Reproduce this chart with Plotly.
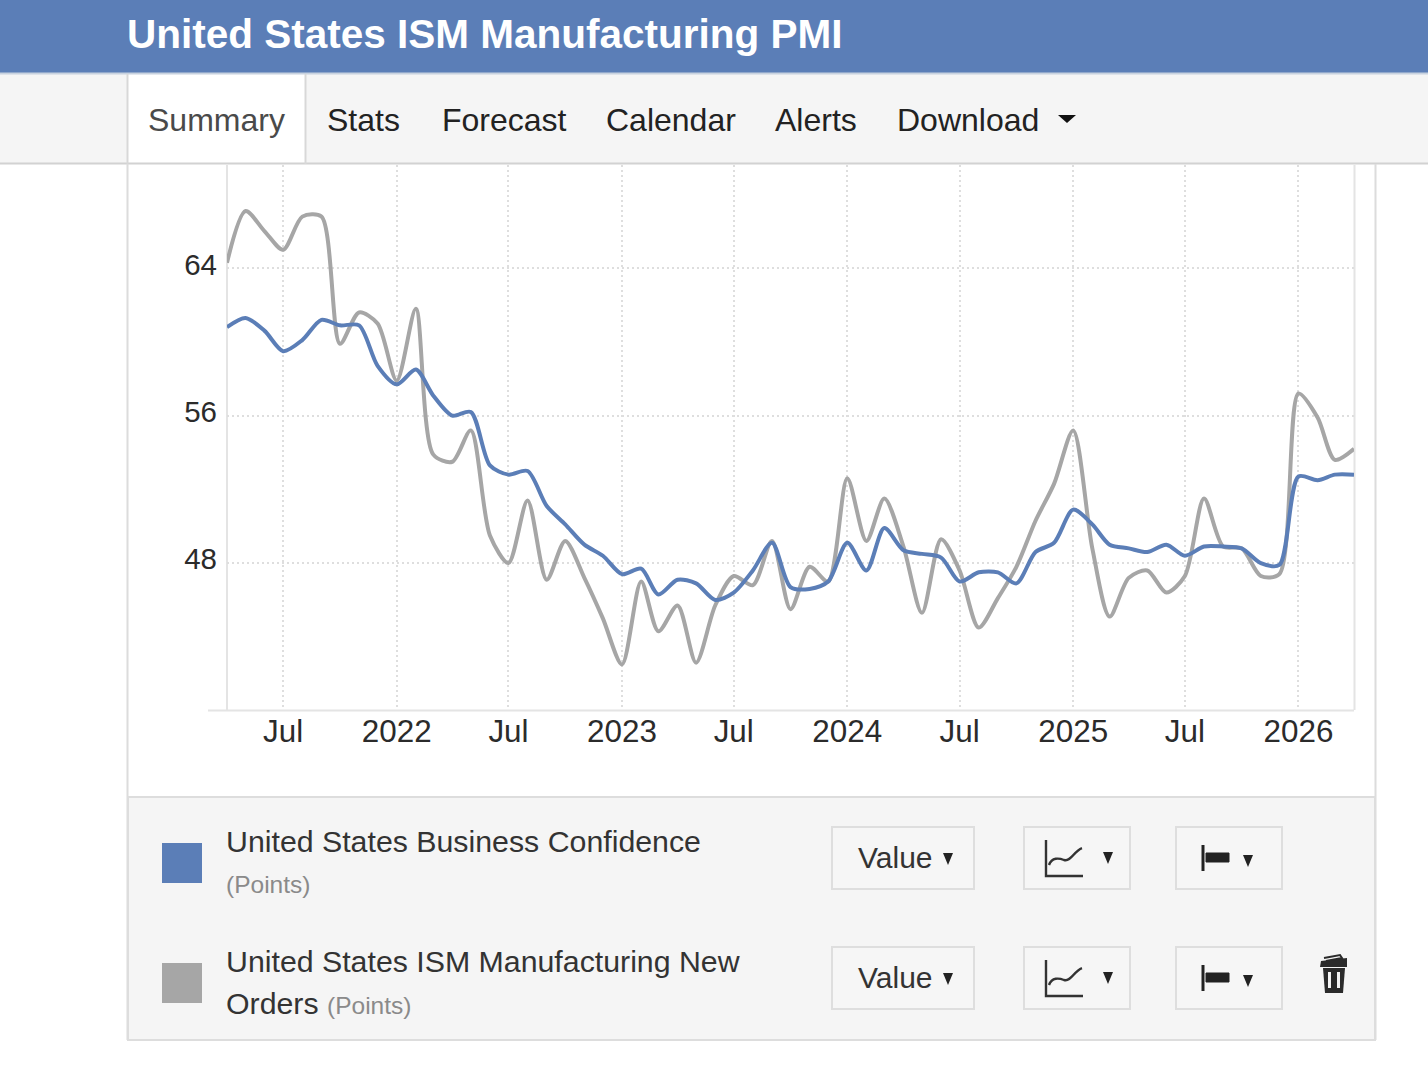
import plotly.graph_objects as go

W, H = 1428, 1066
FONT = "Liberation Sans"
BLUE = "#5b7eb7"
GREY = "#a6a6a6"
INK = "#2b2b2b"
EDGE = "#dcdcdc"

months = [
    "2021-04", "2021-05", "2021-06", "2021-07", "2021-08", "2021-09", "2021-10", "2021-11", "2021-12",
    "2022-01", "2022-02", "2022-03", "2022-04", "2022-05", "2022-06", "2022-07", "2022-08", "2022-09",
    "2022-10", "2022-11", "2022-12", "2023-01", "2023-02", "2023-03", "2023-04", "2023-05", "2023-06",
    "2023-07", "2023-08", "2023-09", "2023-10", "2023-11", "2023-12", "2024-01", "2024-02", "2024-03",
    "2024-04", "2024-05", "2024-06", "2024-07", "2024-08", "2024-09", "2024-10", "2024-11", "2024-12",
    "2025-01", "2025-02", "2025-03", "2025-04", "2025-05", "2025-06", "2025-07", "2025-08", "2025-09",
    "2025-10", "2025-11", "2025-12", "2026-01", "2026-02", "2026-03", "2026-04",
]
business_confidence = [
    60.8, 61.3, 60.6, 59.5, 60.1, 61.2, 60.9, 60.9, 58.7,
    57.7, 58.5, 57.1, 56.0, 56.2, 53.3, 52.8, 53.0, 51.1,
    50.1, 49.0, 48.4, 47.4, 47.7, 46.3, 47.1, 46.9, 46.0,
    46.4, 47.6, 49.1, 46.7, 46.6, 47.0, 49.1, 47.6, 49.9,
    48.7, 48.5, 48.3, 47.0, 47.5, 47.5, 46.9, 48.6, 49.1,
    50.9, 50.1, 49.0, 48.8, 48.6, 49.0, 48.4, 48.9, 48.9,
    48.8, 48.0, 47.9, 52.7, 52.5, 52.8, 52.8,
]
new_orders = [
    64.3, 67.1, 66.0, 65.0, 66.8, 66.8, 59.9, 61.6, 61.0,
    57.9, 61.8, 53.9, 53.5, 55.2, 49.5, 48.0, 51.4, 47.1,
    49.2, 47.2, 45.0, 42.5, 47.0, 44.3, 45.7, 42.6, 45.7,
    47.3, 46.8, 49.2, 45.5, 47.8, 47.0, 52.6, 49.2, 51.5,
    48.9, 45.3, 49.3, 47.6, 44.5, 46.1, 47.8, 50.3, 52.3,
    55.2, 48.8, 45.1, 47.2, 47.6, 46.4, 47.3, 51.5, 48.9,
    48.8, 47.3, 47.4, 57.2, 55.9, 53.6, 54.2,
]
x_tick_dates = ["2021-07-01", "2022-01-01", "2022-07-01", "2023-01-01", "2023-07-01",
                "2024-01-01", "2024-07-01", "2025-01-01", "2025-07-01", "2026-01-01"]
x_tick_labels = ["Jul", "2022", "Jul", "2023", "Jul", "2024", "Jul", "2025", "Jul", "2026"]
y_ticks = [48, 56, 64]
nav_items = [("Summary", 148, "#4a4a4a"), ("Stats", 327, "#222"), ("Forecast", 442, "#222"),
             ("Calendar", 606, "#222"), ("Alerts", 775, "#222"), ("Download", 897, "#222")]


def px(x):
    return x / W


def py(y):
    return 1 - y / H


shapes = []
annotations = []


def rect(x0, y0, x1, y1, fill="rgba(0,0,0,0)", line=None, width=1, layer="below"):
    shapes.append(dict(type="rect", xref="paper", yref="paper", x0=px(x0), x1=px(x1),
                       y0=py(y0), y1=py(y1), fillcolor=fill, layer=layer,
                       line=dict(color=line or "rgba(0,0,0,0)", width=width if line else 0)))


def seg(x0, y0, x1, y1, color, width=1, layer="below"):
    shapes.append(dict(type="line", xref="paper", yref="paper", x0=px(x0), x1=px(x1),
                       y0=py(y0), y1=py(y1), layer=layer, line=dict(color=color, width=width)))


def poly(points, fill=None, line=None, width=0, smooth=False):
    # Paper-space outline for the small interface icons; smooth outlines take
    # one start point followed by triples of Bezier control points.
    d = f"M{px(points[0][0]):.5f},{py(points[0][1]):.5f}"
    if smooth:
        rest = points[1:]
        for i in range(0, len(rest), 3):
            d += " C" + " ".join(f"{px(a):.5f},{py(b):.5f}" for a, b in rest[i:i + 3])
    else:
        d += " " + " ".join(f"L{px(a):.5f},{py(b):.5f}" for a, b in points[1:])
        if fill:
            d += " Z"
    shapes.append(dict(type="path", xref="paper", yref="paper", path=d, layer="above",
                       fillcolor=fill or "rgba(0,0,0,0)",
                       line=dict(color=line or "rgba(0,0,0,0)", width=width)))


def label(x, y, text, size, color=INK, anchor="left", bold=False):
    annotations.append(dict(xref="paper", yref="paper", x=px(x), y=py(y), text=f"<b>{text}</b>" if bold else text,
                            showarrow=False, xanchor=anchor, yanchor="middle",
                            borderpad=0, borderwidth=0,
                            font=dict(family=FONT, size=size, color=color)))


# Header band and navigation bar
rect(0, 0, W, 73, fill=BLUE)
rect(0, 73, W, 164, fill="#f5f5f5")
rect(127, 74, 306, 165, fill="#ffffff")
seg(0, 73.5, W, 73.5, "#c8d2df", 2)
seg(0, 163.5, W, 163.5, "#d2d2d2", 2)
seg(127.5, 74, 127.5, 164, "#d8d8d8", 2)
seg(305.5, 74, 305.5, 164, "#d8d8d8", 2)
label(127, 34.5, "United States ISM Manufacturing PMI", 40.5, "#ffffff", bold=True)
for text, left, color in nav_items:
    label(left, 120, text, 32, color)
poly([(1058, 115), (1076, 115), (1067, 123)], fill="#111")

# Chart panel edges and axis frame
seg(127.5, 164, 127.5, 1040, EDGE, 2)
seg(1375.5, 164, 1375.5, 1040, EDGE, 2)
seg(208, 710.5, 1354, 710.5, "#e4e4e4", 2)
seg(227, 165, 227, 710, "#e4e4e4", 2)
seg(1354.5, 165, 1354.5, 710, "#e4e4e4", 2)

# Series panel below the chart
rect(128, 797, 1375, 1040, fill="#f5f5f5", line="#dddddd", width=2)
rect(162, 843, 202, 883, fill=BLUE)
rect(162, 963, 202, 1003, fill=GREY)
label(226, 841, "United States Business Confidence", 30.3, "#333")
label(226, 884, "(Points)", 24.5, "#8a8a8a")
label(226, 961, "United States ISM Manufacturing New", 30.3, "#333")
label(226, 1003, 'Orders <span style="font-size:24.5px;color:#8a8a8a">(Points)</span>', 30.3, "#333")

for top in (827, 947):
    offset = top - 827
    rect(832, top, 974, top + 62, fill="#f6f6f6", line="#dedede", width=2)
    rect(1024, top, 1130, top + 62, fill="#f6f6f6", line="#dedede", width=2)
    rect(1176, top, 1282, top + 62, fill="#f6f6f6", line="#dedede", width=2)
    label(858, top + 30, "Value", 30, "#333")
    poly([(943, 853 + offset), (953, 853 + offset), (948, 865 + offset)], fill="#222")
    poly([(1103, 852 + offset), (1113, 852 + offset), (1108, 864 + offset)], fill="#222")
    poly([(1243, 855 + offset), (1253, 855 + offset), (1248, 867 + offset)], fill="#222")
    # Line-chart glyph
    poly([(1046, 840 + offset), (1046, 876 + offset), (1083, 876 + offset)], line="#333", width=2.4)
    poly([(1049, 865 + offset), (1052, 857 + offset), (1059, 858 + offset), (1064, 860 + offset),
          (1071, 862 + offset), (1074, 851 + offset), (1082, 848 + offset)],
         line="#333", width=2.4, smooth=True)
    # Axis-side glyph
    seg(1203, 845 + offset, 1203, 871 + offset, "#222", 3, layer="above")
    shapes.append(dict(type="rect", xref="paper", yref="paper", x0=px(1206), x1=px(1229),
                       y0=py(853 + offset), y1=py(862 + offset), fillcolor="#222", layer="above",
                       line=dict(color="#222", width=1)))

# Trash glyph
poly([(1321, 961), (1347, 958), (1347, 967), (1320, 967)], fill="#2b2b2b")
poly([(1324, 958), (1340, 955), (1342, 958), (1326, 961)], line="#2b2b2b", width=2)
poly([(1323, 968), (1345, 968), (1343, 993), (1325, 993)], fill="#2b2b2b")
poly([(1328, 972), (1331, 972), (1331, 988), (1328, 988)], fill="#f5f5f5")
poly([(1337, 972), (1340, 972), (1340, 988), (1337, 988)], fill="#f5f5f5")

fig = go.Figure()
fig.add_trace(go.Scatter(x=months, y=new_orders, mode="lines", name="United States ISM Manufacturing New Orders",
                         line=dict(color=GREY, width=4, shape="spline", smoothing=0.8)))
fig.add_trace(go.Scatter(x=months, y=business_confidence, mode="lines", name="United States Business Confidence",
                         line=dict(color=BLUE, width=4, shape="spline", smoothing=0.8)))

fig.update_layout(
    width=W, height=H, margin=dict(l=0, r=0, t=0, b=0),
    paper_bgcolor="#ffffff", plot_bgcolor="rgba(0,0,0,0)", showlegend=False,
    shapes=shapes, annotations=annotations,
    font=dict(family=FONT, color=INK),
    xaxis=dict(domain=[px(227), px(1354)], range=["2021-04-01", "2026-04-01"], type="date",
               tickmode="array", tickvals=x_tick_dates, ticktext=x_tick_labels,
               showgrid=True, griddash="2px,3px", gridcolor="#dedede", gridwidth=2,
               showline=False, zeroline=False, ticks="", ticklabelstandoff=0,
               tickfont=dict(family=FONT, size=31.4, color=INK)),
    yaxis=dict(domain=[py(710), py(165)], range=[40.03, 69.6],
               tickmode="array", tickvals=y_ticks, ticktext=[str(v) for v in y_ticks],
               showgrid=True, griddash="2px,3px", gridcolor="#dedede", gridwidth=2,
               showline=False, zeroline=False, ticks="", ticklabelstandoff=9, ticklabelshift=-4,
               tickfont=dict(family=FONT, size=29.5, color=INK)),
)

fig.write_html("out.html", config={"displayModeBar": False})
